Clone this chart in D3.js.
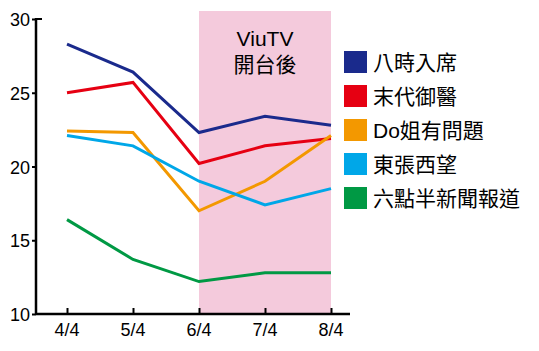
<!DOCTYPE html>
<html>
<head>
<meta charset="utf-8">
<script src="https://cdn.jsdelivr.net/npm/d3@7"></script>
<style>
  body { margin: 0; background: #fff; }
  text { font-family: "Liberation Sans", Arial, "Noto Sans CJK TC", sans-serif; fill: #000; }
</style>
</head>
<body>
<div id="chart"></div>
<script>
const dates = ['4/4', '5/4', '6/4', '7/4', '8/4'];
const shows = ['八時入席', '末代御醫', 'Do姐有問題', '東張西望', '六點半新聞報道'];
const colors = ['#1a2a8c', '#e60012', '#f39800', '#00a7e8', '#009944'];
const eightPm = [28.3, 26.4, 22.3, 23.4, 22.8];
const imperialDoctor = [25.0, 25.7, 20.2, 21.4, 21.9];
const doJie = [22.4, 22.3, 17.0, 19.0, 22.1];
const eastSouth = [22.1, 21.4, 19.0, 17.4, 18.5];
const news630 = [16.4, 13.7, 12.2, 12.8, 12.8];
const yTicks = [10, 15, 20, 25, 30];
const shadeFrom = '6/4', shadeTo = '8/4';
const shadeLabel = ['ViuTV', '開台後'];

const series = [eightPm, imperialDoctor, doJie, eastSouth, news630];

const svg = d3.select('#chart').append('svg')
    .attr('width', 539)
    .attr('height', 351);

const x = d3.scalePoint().domain(dates).range([67, 331]);
const y = d3.scaleLinear().domain([10, 30]).range([314, 19]);

// shaded period after ViuTV launch
svg.append('rect')
    .attr('x', x(shadeFrom))
    .attr('y', 11)
    .attr('width', x(shadeTo) - x(shadeFrom))
    .attr('height', y(10) - 11)
    .attr('fill', '#f4cadc');
svg.selectAll('.shadeText').data(shadeLabel).enter().append('text')
    .attr('x', (x(shadeFrom) + x(shadeTo)) / 2)
    .attr('y', (d, i) => 46 + i * 26)
    .attr('text-anchor', 'middle')
    .style('font-size', '21px')
    .text(d => d);

// lines
const line = d3.line()
    .x((d, i) => x(dates[i]))
    .y(d => y(d));
svg.selectAll('.series').data(series).enter().append('path')
    .attr('fill', 'none')
    .attr('stroke', (d, i) => colors[i])
    .attr('stroke-width', 3)
    .attr('stroke-linejoin', 'miter')
    .attr('d', line);

// axes
const xAxis = svg.append('g')
    .attr('transform', 'translate(0,' + y(10) + ')')
    .call(d3.axisTop(x).tickSize(6).tickSizeOuter(0).tickFormat(''));
xAxis.select('.domain').remove();
xAxis.selectAll('line').attr('stroke', '#000').attr('stroke-width', 2);
svg.append('line') // x axis line
    .attr('x1', 36).attr('x2', 350)
    .attr('y1', y(10)).attr('y2', y(10))
    .attr('stroke', '#000').attr('stroke-width', 2.5);
svg.selectAll('.xLabel').data(dates).enter().append('text')
    .attr('x', d => x(d))
    .attr('y', y(10) + 22)
    .attr('text-anchor', 'middle')
    .style('font-size', '18px')
    .text(d => d);

const yAxis = svg.append('g')
    .attr('transform', 'translate(36,0)')
    .call(d3.axisLeft(y).tickValues(yTicks).tickSize(4).tickSizeOuter(0).tickFormat(''));
yAxis.select('.domain').remove();
yAxis.selectAll('line').attr('stroke', '#000').attr('stroke-width', 2);
svg.append('line') // y axis line
    .attr('x1', 36).attr('x2', 36)
    .attr('y1', y(30) - 1).attr('y2', y(10))
    .attr('stroke', '#000').attr('stroke-width', 2.5);
svg.append('line') // top cap
    .attr('x1', 35).attr('x2', 42)
    .attr('y1', y(30)).attr('y2', y(30))
    .attr('stroke', '#000').attr('stroke-width', 2);
svg.selectAll('.yLabel').data(yTicks).enter().append('text')
    .attr('x', 30)
    .attr('y', d => y(d) + 7)
    .attr('text-anchor', 'end')
    .style('font-size', '18px')
    .text(d => d);

// legend
const legend = svg.selectAll('.legend').data(shows).enter().append('g')
    .attr('transform', (d, i) => 'translate(344,' + (51 + i * 34) + ')');
legend.append('rect')
    .attr('width', 23)
    .attr('height', 22)
    .attr('fill', (d, i) => colors[i]);
legend.append('text')
    .attr('x', 29)
    .attr('y', 19)
    .style('font-size', '21px')
    .text(d => d);
</script>
</body>
</html>
